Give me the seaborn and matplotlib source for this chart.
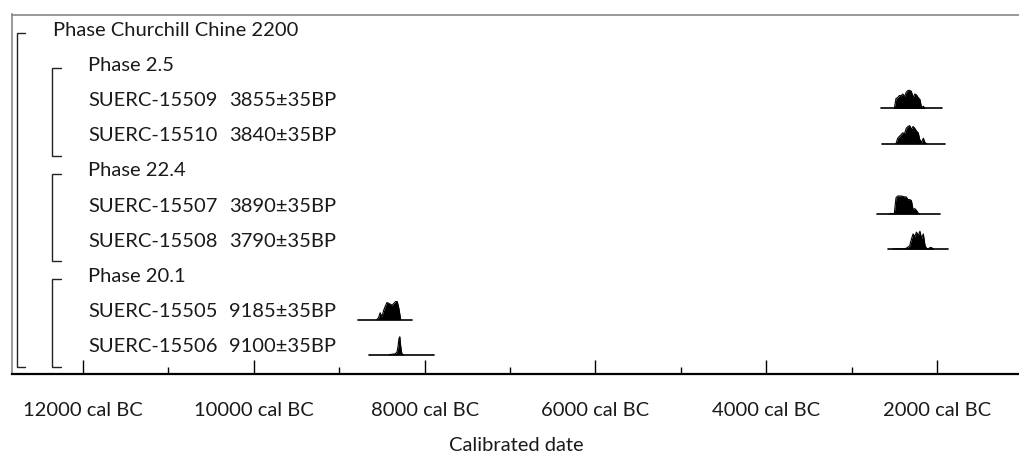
import numpy as np
import pandas as pd
import matplotlib
matplotlib.use("Agg")
import matplotlib.pyplot as plt
import seaborn as sns
from matplotlib.transforms import blended_transform_factory
from matplotlib.ticker import FixedLocator

# ---------------- data ----------------
row_labels = ["Phase Churchill Chine 2200", "Phase 2.5", "SUERC-15509", "SUERC-15510",
              "Phase 22.4", "SUERC-15507", "SUERC-15508", "Phase 20.1",
              "SUERC-15505", "SUERC-15506"]
row_dates = ["", "", "3855±35BP", "3840±35BP", "", "3890±35BP", "3790±35BP", "",
             "9185±35BP", "9100±35BP"]
row_level = [0, 1, 1, 1, 1, 1, 1, 1, 1, 1]

# phase brackets: (first row, last row, nesting level)
brackets = [(0, 9, 0), (1, 3, 1), (4, 6, 1), (7, 9, 1)]

# calibrated probability distributions (years AD, negative = BC), relative height
years_15509 = [-2500, -2480, -2460, -2440, -2420, -2400, -2380, -2360, -2340, -2320,
               -2300, -2280, -2260, -2240, -2220, -2200, -2180, -2160, -2140]
prob_15509 = [0, 0.55, 0.6, 0.72, 0.7, 0.8, 0.65, 0.9, 1.0, 1.0,
              0.95, 0.6, 0.8, 0.75, 0.6, 0.5, 0.03, 0.12, 0]
range_15509 = [-2656, -1941]

years_15510 = [-2480, -2460, -2440, -2420, -2400, -2380, -2360, -2340, -2320, -2300,
               -2280, -2260, -2240, -2220, -2200, -2180, -2160, -2140, -2120]
prob_15510 = [0, 0.3, 0.4, 0.5, 0.6, 0.55, 0.85, 0.95, 1.0, 0.8,
              0.95, 0.85, 0.7, 0.6, 0.2, 0.08, 0.3, 0.05, 0]
range_15510 = [-2644, -1906]

years_15507 = [-2560, -2540, -2520, -2500, -2480, -2460, -2440, -2420, -2400, -2380,
               -2360, -2340, -2320, -2300, -2280, -2260, -2240, -2220, -2200]
prob_15507 = [0, 0.04, 0, 0.02, 0.9, 1.0, 1.0, 1.0, 0.98, 0.95,
              0.95, 0.8, 0.8, 0.75, 0.25, 0.3, 0.2, 0.05, 0]
range_15507 = [-2703, -1965]

years_15508 = [-2520, -2500, -2480, -2460, -2440, -2420, -2400, -2380, -2360, -2340,
               -2320, -2300, -2280, -2260, -2240, -2220, -2200, -2180, -2160, -2140,
               -2120, -2100, -2080, -2060, -2040]
prob_15508 = [0, 0.02, 0.01, 0.03, 0.02, 0.03, 0.02, 0.03, 0.05, 0.12,
              0.18, 0.55, 0.85, 0.7, 0.95, 0.75, 1.0, 0.6, 0.85, 0.2,
              0.03, 0.02, 0.1, 0.08, 0]
range_15508 = [-2574, -1871]

years_15505 = [-8560, -8540, -8520, -8500, -8480, -8460, -8440, -8420, -8400, -8380,
               -8360, -8340, -8320, -8300, -8280]
prob_15505 = [0, 0.1, 0.38, 0.15, 0.5, 0.75, 0.95, 0.9, 0.85, 0.8,
              0.9, 1.0, 1.0, 0.6, 0]
range_15505 = [-8780, -8147]

years_15506 = [-8420, -8400, -8380, -8360, -8340, -8330, -8320, -8310, -8300, -8290,
               -8280, -8270, -8260, -8250]
prob_15506 = [0, 0.02, 0.03, 0.04, 0.06, 0.12, 0.2, 0.5, 0.9, 1.0,
              0.5, 0.15, 0.03, 0]
range_15506 = [-8651, -7890]

dists = {
    2: (years_15509, prob_15509, range_15509),
    3: (years_15510, prob_15510, range_15510),
    5: (years_15507, prob_15507, range_15507),
    6: (years_15508, prob_15508, range_15508),
    8: (years_15505, prob_15505, range_15505),
    9: (years_15506, prob_15506, range_15506),
}

major_ticks = [-12000, -10000, -8000, -6000, -4000, -2000]
minor_ticks = [-11000, -9000, -7000, -5000, -3000]
tick_labels = [f"{-t} cal BC" for t in major_ticks]

# ---------------- style ----------------
sns.set_theme(style="white")
plt.rcParams['font.family'] = ['Lato', 'DejaVu Sans']
txt_color = "#1a1a1a"
fsize = 14.5

W, H = 1020, 454
fig = plt.figure(figsize=(W / 100, H / 100), dpi=100)
ax_left, ax_top, ax_bottom = 12, 14.5, 374
ax = fig.add_axes([ax_left / W, 1 - ax_bottom / H, (W - ax_left) / W, (ax_bottom - ax_top) / H])

row_h = 35.2
row0 = 30.0
ax.set_xlim(-12831, -1028)
ax.set_ylim((ax_bottom - row0) / row_h, (ax_top - row0) / row_h)

trans = blended_transform_factory(ax.transAxes, ax.transData)
axw = W - ax_left


def fx(px):
    return (px - ax_left) / axw


# labels
text_x = {0: 53, 1: 88}
for i, (lab, dt, lv) in enumerate(zip(row_labels, row_dates, row_level)):
    ax.text(fx(text_x[lv]), i, lab, transform=trans, ha="left", va="center",
            fontsize=fsize, color=txt_color, fontweight="normal")
    if dt:
        ax.text(fx(229), i, dt, transform=trans, ha="left", va="center",
                fontsize=fsize, color=txt_color, fontweight="normal")

# brackets
br_x = {0: (17, 25), 1: (52, 61)}
for first, last, lv in brackets:
    x0, x1 = br_x[lv]
    ytop = first + 3 / row_h
    ybot = last + 20 / row_h
    ax.plot([fx(x1), fx(x0), fx(x0), fx(x1)], [ytop, ytop, ybot, ybot],
            transform=trans, color="#222222", lw=1, solid_joinstyle="miter")

# distributions
base_off = 8 / row_h
peak_h = 18 / row_h
for r, (yrs, pr, rng) in dists.items():
    base = r + base_off
    df = pd.DataFrame({"year": yrs, "y": base - peak_h * np.array(pr)})
    ax.fill_between(df["year"], base, df["y"], color="black", lw=0)
    sns.lineplot(data=df, x="year", y="y", ax=ax, color="black", lw=0.8)
    bl = pd.DataFrame({"year": rng, "y": [base, base]})
    sns.lineplot(data=bl, x="year", y="y", ax=ax, color="black", lw=1.2)

# axes frame
for s in ["top", "left"]:
    ax.spines[s].set_color("#888888")
    ax.spines[s].set_linewidth(1.2)
ax.spines["right"].set_visible(False)
ax.spines["bottom"].set_color("black")
ax.spines["bottom"].set_linewidth(1.6)

ax.xaxis.set_major_locator(FixedLocator(major_ticks))
ax.xaxis.set_minor_locator(FixedLocator(minor_ticks))
ax.set_xticklabels(tick_labels, fontweight="normal")
ax.tick_params(axis="x", which="major", direction="in", length=10, width=1, color="black",
               pad=20, labelsize=fsize, labelcolor=txt_color, bottom=True)
ax.tick_params(axis="x", which="minor", direction="in", length=5, width=1, color="black",
               bottom=True)
ax.set_yticks([])
ax.set_ylabel("")
ax.set_xlabel("Calibrated date", fontsize=fsize, color=txt_color, labelpad=13,
              fontweight="normal")

fig.savefig("out.png", dpi=100)
